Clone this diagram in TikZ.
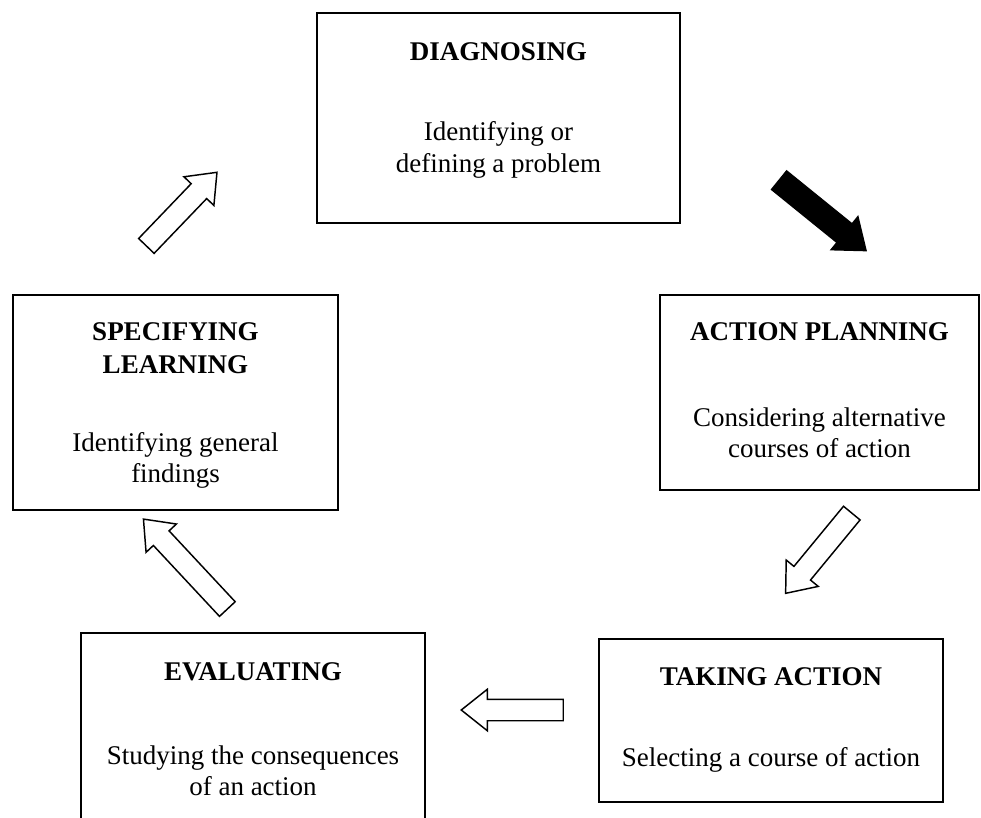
\documentclass[tikz,border=0pt]{standalone}
\usepackage{fontspec}
\setmainfont{Liberation Serif}
\usetikzlibrary{shapes.arrows}
\tikzset{
  stagebox/.style={draw, line width=1.8pt, inner sep=0pt},
  stagetitle/.style={align=center, font=\fontsize{20.25}{24.5}\selectfont\bfseries},
  stagetext/.style={align=center, font=\fontsize{20.25}{23.5}\selectfont},
  hollowarrow/.style={draw, fill=white, line width=1.1pt, single arrow,
    single arrow head extend=7.5pt, single arrow tip angle=77,
    inner xsep=0pt, inner ysep=7.5pt},
  solidarrow/.style={draw, fill=black, line width=1pt, single arrow,
    single arrow head extend=7pt, single arrow tip angle=75,
    inner xsep=0pt, inner ysep=8.5pt},
}

\begin{document}
\begin{tikzpicture}[x=0.75pt, y=-0.75pt]
		%%%%% START %%%%%
		\useasboundingbox (0,0) rectangle (981,817);
		
		\node[stagebox, minimum width=363*0.75pt, minimum height=210*0.75pt] (diag) at (498.5,118) {};
		\node[stagetitle] (diagtitle) at (498.5,52) {DIAGNOSING};
		\node[stagetext] (diagtext) at (498.5,150) {Identifying or\\defining a problem};
		
		\node[stagebox, minimum width=319*0.75pt, minimum height=195*0.75pt] (plan) at (819.5,392.5) {};
		\node[stagetitle] (plantitle) at (819.5,332) {ACTION PLANNING};
		\node[stagetext] (plantext) at (819.5,433) {Considering alternative\\courses of action};
		
		\node[stagebox, minimum width=344*0.75pt, minimum height=163*0.75pt] (take) at (771,720.5) {};
		\node[stagetitle] (taketitle) at (771,677) {TAKING ACTION};
		\node[stagetext] (taketext) at (771,760) {Selecting a course of action};
		
		\node[stagebox, minimum width=344*0.75pt, minimum height=197*0.75pt] (eval) at (253,731.5) {};
		\node[stagetitle] (evaltitle) at (253,672) {EVALUATING};
		\node[stagetext] (evaltext) at (253,771) {Studying the consequences\\of an action};
		
		\node[stagebox, minimum width=325*0.75pt, minimum height=215*0.75pt] (spec) at (175.5,402.5) {};
		\node[stagetitle] (spectitle) at (175.5,348.5) {SPECIFYING\\LEARNING};
		\node[stagetext] (spectext) at (175.5,460.5) {Identifying general\\findings};
		
		% arrows round the cycle
		\node[solidarrow, minimum height=112*0.75pt, rotate=-39] (diagtoplan) at (816.5,210.5) {};
		\node[hollowarrow, minimum height=104*0.75pt, rotate=-129.5] (plantotake) at (823,548) {};
		\node[hollowarrow, minimum height=102*0.75pt, rotate=180] (taketoeval) at (519,710) {};
		\node[hollowarrow, minimum height=123*0.75pt, rotate=133] (evaltospec) at (190,569) {};
		\node[hollowarrow, minimum height=102*0.75pt, rotate=46.2] (spectodiag) at (177,214) {};
		
		%%%%% END %%%%%
	\end{tikzpicture}
\end{document}
